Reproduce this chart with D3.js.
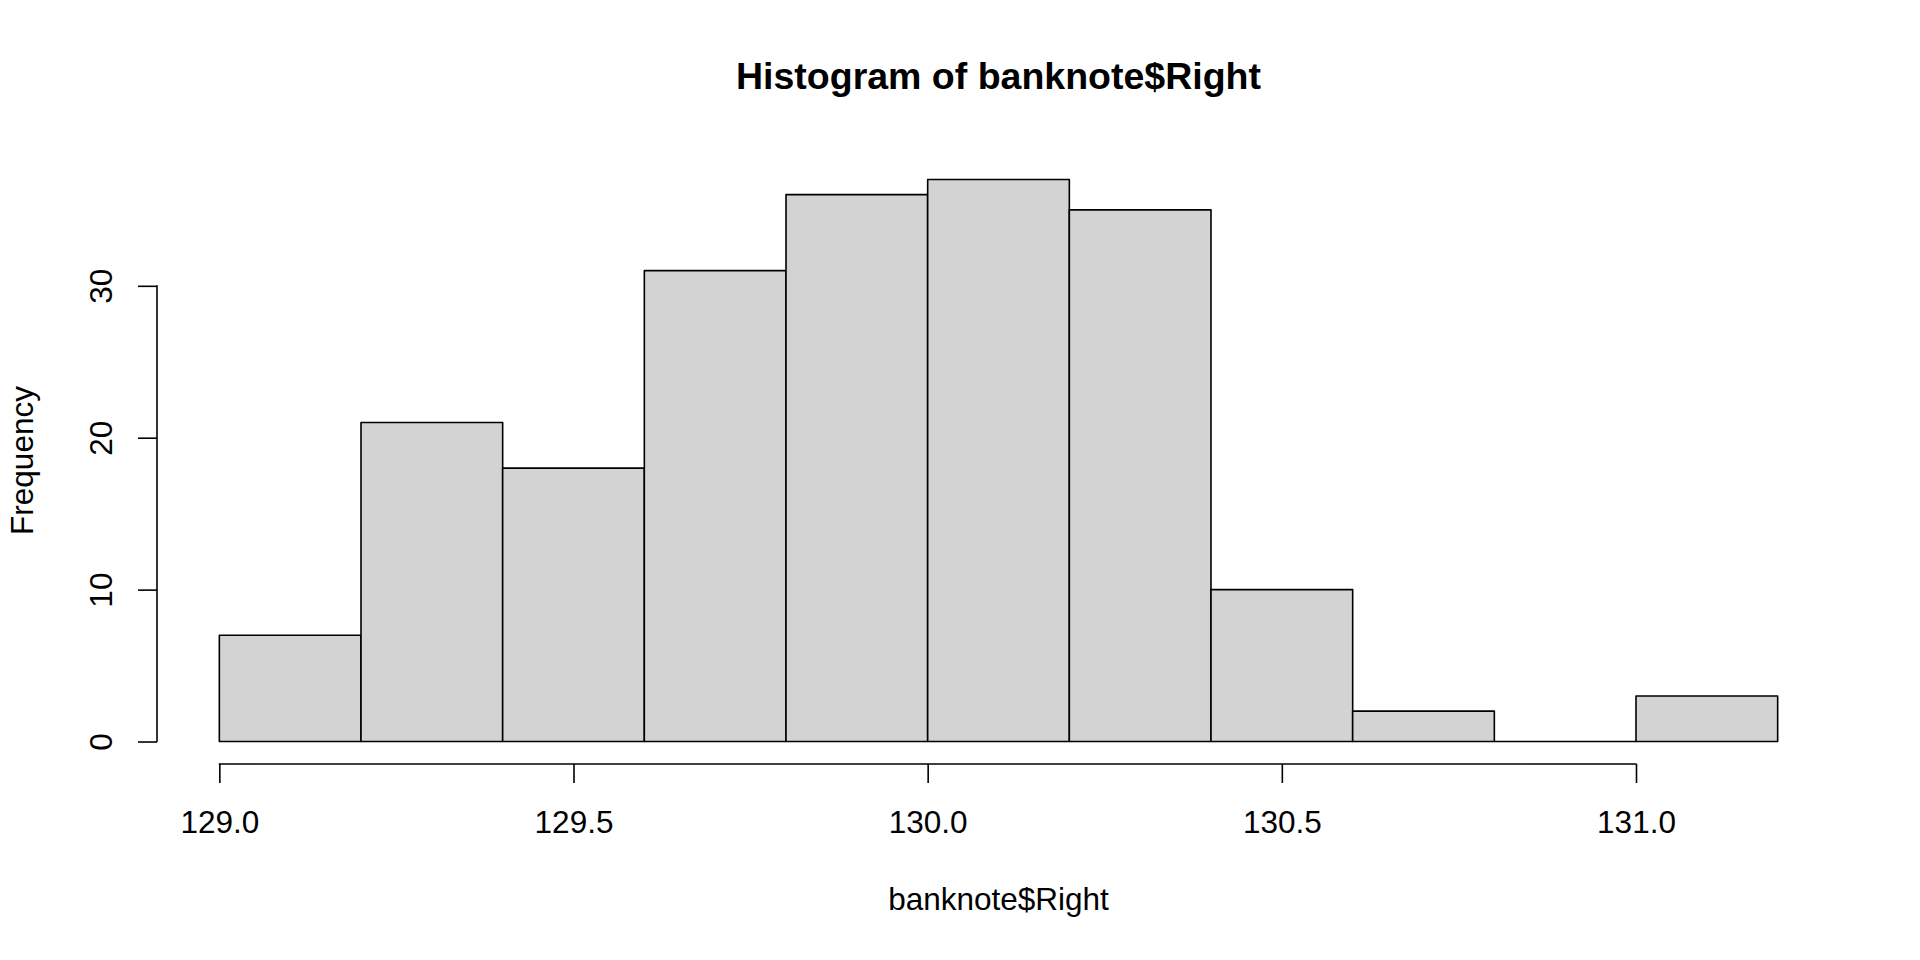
<!DOCTYPE html>
<html>
<head>
<meta charset="utf-8">
<script src="https://cdn.jsdelivr.net/npm/d3@7"></script>
<style>
  html, body { margin: 0; padding: 0; background: #fff; }
  svg { display: block; font-family: Arial, "Liberation Sans", sans-serif; }
</style>
</head>
<body>
<svg id="chart" width="1920" height="960"></svg>
<script>
// histogram bins of banknote$Right (break edges and counts)
const binStarts = [129.0, 129.2, 129.4, 129.6, 129.8, 130.0, 130.2, 130.4, 130.6, 130.8, 131.0]
const binEnds = [129.2, 129.4, 129.6, 129.8, 130.0, 130.2, 130.4, 130.6, 130.8, 131.0, 131.2]
const counts = [7, 21, 18, 31, 36, 37, 35, 10, 2, 0, 3]

const xTicks = [129.0, 129.5, 130.0, 130.5, 131.0]
const yTicks = [0, 10, 20, 30]

const title = 'Histogram of banknote$Right'
const xLabel = 'banknote$Right'
const yLabel = 'Frequency'

const bins = binStarts.map((x0, i) => ({x0, x1: binEnds[i], n: counts[i]}))

// plot region, like R's usr with 4% padding
const plot = {left: 157, right: 1840, top: 157, bottom: 764}
const xMin = d3.min(binStarts), xMax = d3.max(binEnds)
const xPad = (xMax - xMin) * 0.04
const yMax = d3.max(counts)
const yPad = yMax * 0.04

const x = d3.scaleLinear()
    .domain([xMin - xPad, xMax + xPad])
    .range([plot.left, plot.right])
const y = d3.scaleLinear()
    .domain([-yPad, yMax + yPad])
    .range([plot.bottom, plot.top])

const svg = d3.select('#chart')
const lw = 1.6
const axisFont = '31.5px'

// bars as closed paths so an empty bin still shows its bottom edge
function barPath(d) {
    const p = d3.path()
    p.moveTo(x(d.x0), y(0))
    p.lineTo(x(d.x0), y(d.n))
    p.lineTo(x(d.x1), y(d.n))
    p.lineTo(x(d.x1), y(0))
    p.closePath()
    return p.toString()
}

svg.append('g')
    .selectAll('path')
    .data(bins)
    .join('path')
    .attr('d', barPath)
    .attr('fill', '#d3d3d3')
    .attr('stroke', '#000')
    .attr('stroke-width', lw)
    .attr('stroke-linejoin', 'round')

// x axis
const xAxis = svg.append('g')
    .attr('transform', `translate(0,${plot.bottom})`)
    .call(d3.axisBottom(x).tickValues(xTicks).tickSize(19).tickFormat(d3.format('.1f')))
xAxis.select('.domain').remove()
xAxis.append('line')
    .attr('x1', x(xTicks[0])).attr('x2', x(xTicks[xTicks.length - 1]))
    .attr('stroke', '#000').attr('stroke-width', lw).attr('stroke-linecap', 'round')
xAxis.selectAll('.tick line').attr('stroke-width', lw)
xAxis.selectAll('.tick text')
    .attr('y', 69).attr('dy', null)
    .attr('fill', '#000')
    .style('font-size', axisFont)
    .style('font-family', 'Arial, "Liberation Sans", sans-serif')

// y axis
const yAxis = svg.append('g')
    .attr('transform', `translate(${plot.left},0)`)
    .call(d3.axisLeft(y).tickValues(yTicks).tickSize(19).tickFormat(d3.format('d')))
yAxis.select('.domain').remove()
yAxis.append('line')
    .attr('y1', y(yTicks[0])).attr('y2', y(yTicks[yTicks.length - 1]))
    .attr('stroke', '#000').attr('stroke-width', lw).attr('stroke-linecap', 'round')
yAxis.selectAll('.tick line').attr('stroke-width', lw)
yAxis.selectAll('.tick text')
    .attr('x', null).attr('dy', null)
    .attr('text-anchor', 'middle')
    .attr('transform', 'translate(-45,0) rotate(-90)')
    .attr('fill', '#000')
    .style('font-size', axisFont)
    .style('font-family', 'Arial, "Liberation Sans", sans-serif')

const midX = (plot.left + plot.right) / 2
const midY = (plot.top + plot.bottom) / 2

// title and axis labels
svg.append('text')
    .attr('x', midX).attr('y', 89)
    .attr('text-anchor', 'middle')
    .style('font-size', '37.5px').style('font-weight', 'bold')
    .text(title)

svg.append('text')
    .attr('x', midX).attr('y', 910)
    .attr('text-anchor', 'middle')
    .style('font-size', axisFont)
    .text(xLabel)

svg.append('text')
    .attr('transform', `translate(33,${midY}) rotate(-90)`)
    .attr('text-anchor', 'middle')
    .style('font-size', axisFont)
    .text(yLabel)
</script>
</body>
</html>
